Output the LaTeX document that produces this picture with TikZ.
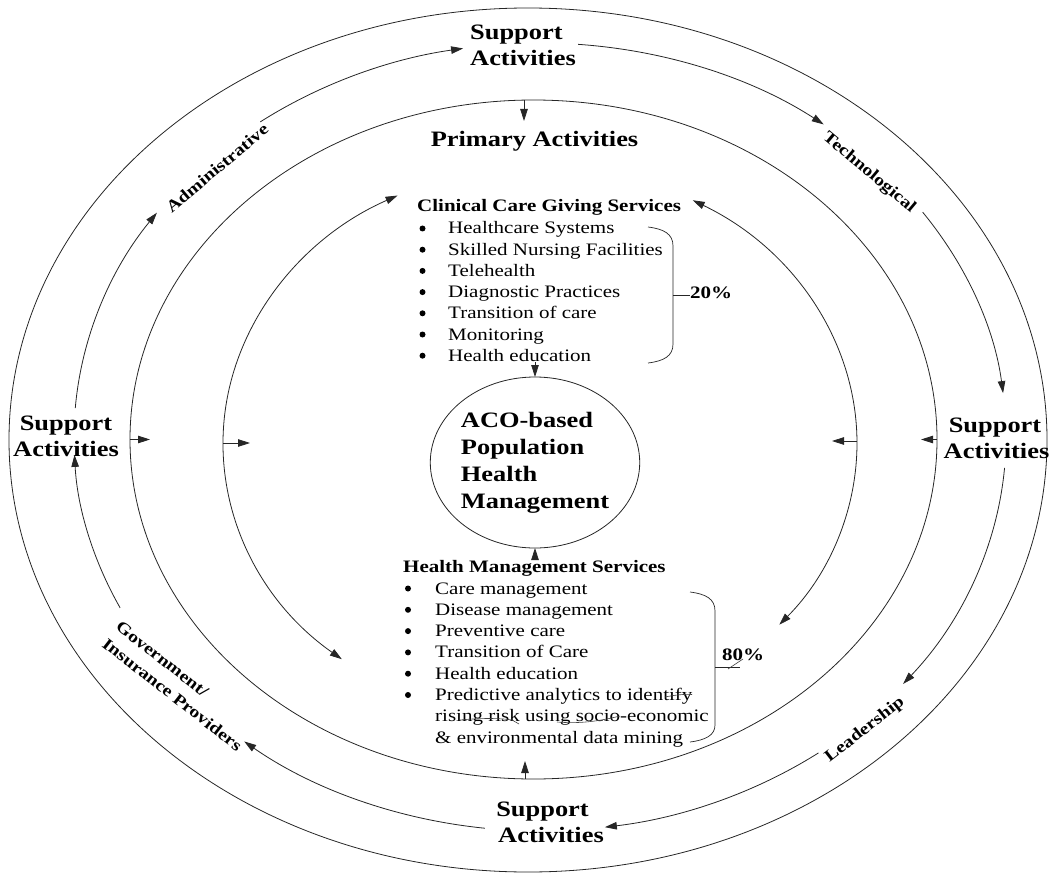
\documentclass[tikz,border=0pt]{standalone}
\usepackage{fontspec}
\setmainfont{Liberation Serif}[FakeStretch=1.2]
\usetikzlibrary{shapes.geometric,arrows.meta,calc}

\begin{document}
\begin{tikzpicture}[x=1pt,y=-1pt,
  ring/.style={draw=black!85, line width=0.8pt},
  tip/.style={-{Triangle[length=12pt,width=7.5pt]}},
  both/.style={{Triangle[length=12pt,width=7.5pt]}-{Triangle[length=12pt,width=7.5pt]}},
  big/.style={font=\fontsize{22}{27}\selectfont\bfseries, inner sep=0pt, anchor=base},
  head/.style={font=\fontsize{17.5}{21}\selectfont\bfseries, inner sep=0pt, anchor=base west},
  item/.style={font=\fontsize{17.5}{21}\selectfont, inner sep=0pt, anchor=base west},
  bul/.style={fill=black, circle, inner sep=0pt, minimum size=6pt},
  side/.style={font=\fontsize{16.5}{22}\selectfont\bfseries, inner sep=0pt},
  faint/.style={draw=black!75, line width=0.6pt}
]
\useasboundingbox (0,0) rectangle (1051,877);

% closed rings
\node[ring, ellipse, minimum width=1038pt, minimum height=864pt, inner sep=0pt, outer sep=0pt] (outer) at (528,440) {};
\node[ring, ellipse, minimum width=807pt, minimum height=679pt, inner sep=0pt, outer sep=0pt] (prim) at (533.5,439.5) {};

% central goal
\node[ring, ellipse, minimum width=207pt, minimum height=171pt, inner sep=0pt, outer sep=0pt,
      align=left, font=\fontsize{22}{27}\selectfont\bfseries] (aco) at (535,462.5)
      {ACO-based\\Population\\Health\\Management};

% support activity labels
\node[big, anchor=base west] (sat1) at (470,40) {Support};
\node[big, anchor=base west] (sat2) at (470,65.5) {Activities};
\node[big] (sal1) at (66,430) {Support};
\node[big] (sal2) at (66,456) {Activities};
\node[big] (sar1) at (995,432.3) {Support};
\node[big] (sar2) at (996.5,458.3) {Activities};
\node[big] (sab1) at (542.5,816) {Support};
\node[big] (sab2) at (551,842.7) {Activities};
\node[big] (primlbl) at (534.5,146.7) {Primary Activities};

% support categories along the middle ring
\node[side, rotate=40] (adm) at (217,168) {Administrative};
\node[side, rotate=-40] (tech) at (869,173) {Technological};
\node[side, rotate=38] (lead) at (865,730) {Leadership};
\node[side, rotate=-38, align=left] (gov) at (179,686) {Government/\\Insurance Providers};

% middle ring, four clockwise segments broken by the labels
\coordinate (mc) at (540,437);
\draw[ring, tip] ([shift={(mc)}]184.2:466 and 394) arc[start angle=184.2, end angle=214.7, x radius=466, y radius=394];
\draw[ring, tip] ([shift={(mc)}]233.1:466 and 394) arc[start angle=233.1, end angle=260.5, x radius=466, y radius=394];
\draw[ring, tip] ([shift={(mc)}]274.7:466 and 394) arc[start angle=274.7, end angle=307.5, x radius=466, y radius=394];
\draw[ring, tip] ([shift={(mc)}]325.2:466 and 394) arc[start angle=325.2, end angle=353.6, x radius=466, y radius=394];
\draw[ring, tip] ([shift={(mc)}]4.5:466 and 394) arc[start angle=4.5, end angle=38.8, x radius=466, y radius=394];
\draw[ring, tip] ([shift={(mc)}]53.3:466 and 394) arc[start angle=53.3, end angle=82, x radius=466, y radius=394];
\draw[ring, tip] ([shift={(mc)}]96.8:466 and 394) arc[start angle=96.8, end angle=129.4, x radius=466, y radius=394];
\draw[ring, tip] ([shift={(mc)}]154.3:466 and 394) arc[start angle=154.3, end angle=177.4, x radius=466, y radius=394];

% inner ring, two double-headed halves
\coordinate (ic) at (540,443);
\draw[ring, both] ([shift={(ic)}]128.7:317 and 277) arc[start angle=128.7, end angle=243.3, x radius=317, y radius=277];
\draw[ring, both] ([shift={(ic)}]298.8:317 and 277) arc[start angle=298.8, end angle=401, x radius=317, y radius=277];

% short inward arrows
\coordinate (iw) at (223,443);
\coordinate (ie) at (857,441);
\draw[ring, tip] (prim.west) -- ++(20,0);
\draw[ring, tip] (iw) -- ++(27,0);
\draw[ring, tip] (ie) -- ++(-25,0);
\draw[ring, tip] (prim.east) -- ++(-16,0);
\draw[ring, tip] ([xshift=-9.5pt]prim.north) -- ++(0,21);
\draw[ring, tip] ([xshift=-8.5pt]prim.south) -- ++(0,-18);

% clinical care giving services
\node[head] (cch) at (417,211.5) {Clinical Care Giving Services};
\foreach \t [count=\i from 0] in {Healthcare Systems, Skilled Nursing Facilities, Telehealth,
    Diagnostic Practices, Transition of care, Monitoring, Health education} {
  \node[bul] (cb\i) at (422.5,{228.5+21.2*\i}) {};
  \node[item] (ct\i) at (448,{234+21.2*\i}) {\t};
}
\draw[ring, tip] ([yshift=15pt]aco.north) -- (aco.north);

% health management services
\node[head] (hmh) at (403,572) {Health Management Services};
\foreach \t [count=\i from 0] in {Care management, Disease management, Preventive care,
    Transition of Care, Health education, Predictive analytics to identify} {
  \node[bul] (hb\i) at (408,{588.5+21.3*\i}) {};
  \node[item] (ht\i) at (435,{594+21.3*\i}) {\t};
}
\node[item] (ht6) at (435,721.8) {rising risk using socio-economic};
\node[item] (ht7) at (435,743.1) {\& environmental data mining};
\draw[ring, tip] ([yshift=-9pt]aco.south) -- (aco.south);

% share brackets
\draw[ring, line width=0.7pt] (648,227) .. controls (664,229) and (673,234) .. (673,246)
  -- (673,344) .. controls (673,356) and (664,361) .. (648,363);
\coordinate (br1) at (673,295.5);
\node[font=\fontsize{17.5}{21}\selectfont\bfseries, inner sep=0pt, anchor=base west] (p20) at (690,298) {20\%};
\draw[ring, line width=0.7pt] (br1) -- (br1 -| p20.west);

\draw[ring, line width=0.7pt] (690,592) .. controls (706,594) and (715,599) .. (715,611)
  -- (715,725) .. controls (715,735) and (706,740) .. (690,742);
\coordinate (br2) at (715,667);
\node[font=\fontsize{17.5}{21}\selectfont\bfseries, inner sep=0pt, anchor=base west] (p80) at (722,660) {80\%};
\draw[ring, line width=0.7pt] (br2) -- ++(25,0);

% stray pen strokes across the last item
\draw[faint] (728,669) -- (743,659);
\draw[faint] (665,697) .. controls (675,695) and (684,694) .. (692,694.5);
\draw[faint] (460,720) .. controls (480,718) and (500,718) .. (512,720) -- (519,724);
\draw[faint] (557,722) .. controls (580,724) and (600,721) .. (620,716);
\end{tikzpicture}
\end{document}
